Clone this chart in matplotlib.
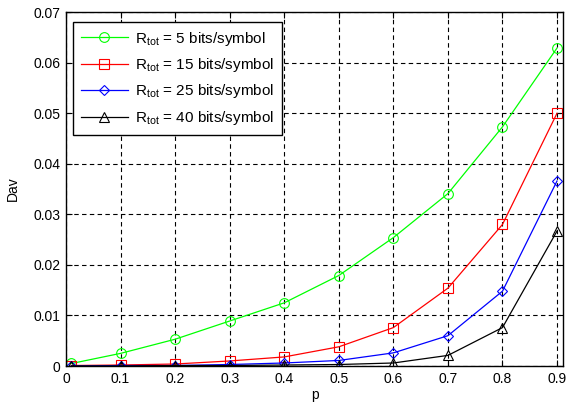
import matplotlib
matplotlib.use("Agg")
import matplotlib.pyplot as plt

plt.rcParams['font.family'] = ['Liberation Sans', 'DejaVu Sans']
plt.rcParams['font.size'] = 10

p = [0.01, 0.1, 0.2, 0.3, 0.4, 0.5, 0.6, 0.7, 0.8, 0.9]
d5 = [0.0005, 0.0025, 0.0053, 0.0089, 0.0125, 0.0179, 0.0254, 0.0341, 0.0473, 0.0629]
d15 = [0.0001, 0.0002, 0.0004, 0.0010, 0.0018, 0.0038, 0.0076, 0.0154, 0.0280, 0.0500]
d25 = [0.0000, 0.0001, 0.0001, 0.0003, 0.0006, 0.0011, 0.0026, 0.0060, 0.0148, 0.0366]
d40 = [0.0000, 0.0000, 0.0001, 0.0001, 0.0002, 0.0003, 0.0006, 0.0021, 0.0076, 0.0267]
labels = [r'$\mathregular{R_{tot}}$ = 5 bits/symbol',
          r'$\mathregular{R_{tot}}$ = 15 bits/symbol',
          r'$\mathregular{R_{tot}}$ = 25 bits/symbol',
          r'$\mathregular{R_{tot}}$ = 40 bits/symbol']
xticks = [0, 0.1, 0.2, 0.3, 0.4, 0.5, 0.6, 0.7, 0.8, 0.9]
yticks = [0, 0.01, 0.02, 0.03, 0.04, 0.05, 0.06, 0.07]

fig = plt.figure(figsize=(5.67, 4.04), dpi=100)
ax = fig.add_axes([0.1164, 0.094, 0.993 - 0.1164, 0.970 - 0.094])

styles = [('#00ff00', 'o'), ('#ff0000', 's'), ('#0000ff', 'D'), ('#000000', '^')]
for d, lab, (c, m) in zip([d5, d15, d25, d40], labels, styles):
    ms = 7 if m != 'D' else 5.5
    ax.plot(p, d, color=c, marker=m, markerfacecolor='none', markeredgecolor=c,
            markersize=ms, linewidth=0.9, markeredgewidth=0.8, label=lab)

ax.set_xlim(0, 0.911)
ax.set_ylim(0, 0.07)
ax.set_xticks(xticks)
ax.set_xticklabels(['0'] + [f'{t:.1f}' for t in xticks[1:]])
ax.set_yticks(yticks)
ax.set_yticklabels(['0'] + [f'{t:.2f}' for t in yticks[1:]])
ax.grid(True, color='black', linestyle=(0, (4, 3)), linewidth=0.8)
ax.tick_params(direction='in', top=True, right=True, length=4, width=0.8, pad=4)
for s in ax.spines.values():
    s.set_linewidth(1.0)
ax.set_xlabel('p', labelpad=2)
ax.set_ylabel('Dav', labelpad=10)

leg = ax.legend(loc='upper left', bbox_to_anchor=(0.014, 0.972), borderaxespad=0,
                fancybox=False, edgecolor='black', framealpha=1, fontsize=11,
                handlelength=3.1, borderpad=0.5, labelspacing=0.55, handletextpad=0.45)
leg.get_frame().set_linewidth(1.0)

fig.savefig('out.png', dpi=100)
